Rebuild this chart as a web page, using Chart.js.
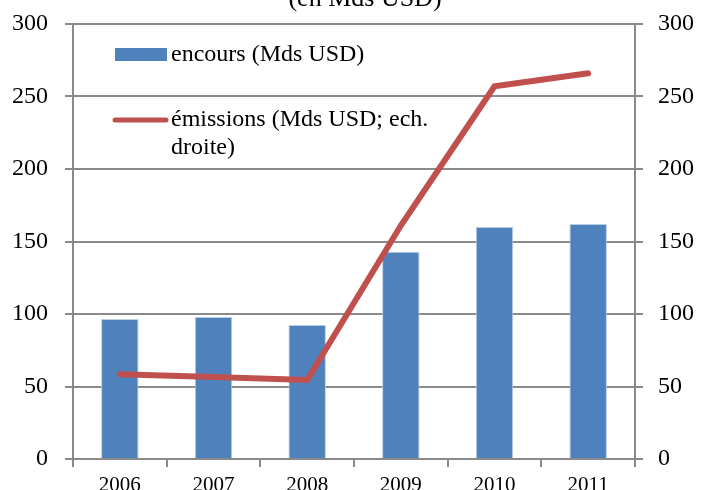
<!DOCTYPE html>
<html>
<head>
<meta charset="utf-8">
<script src="https://cdn.jsdelivr.net/npm/chart.js@4"></script>
<style>
    html, body { margin: 0; padding: 0; background: #fff; overflow: hidden; }
    canvas { display: block; }
</style>
</head>
<body>
<canvas id="chart" width="701" height="510"></canvas>
<script>
const years = ["2006", "2007", "2008", "2009", "2010", "2011"];
const encours = [96.5, 98, 92.5, 143, 160, 162];
const emissions = [58.5, 56.5, 54.5, 161, 257, 266];
const axisTicks = [0, 50, 100, 150, 200, 250, 300];

const titleText = "(en Mds USD)";
const legendBar = "encours (Mds USD)";
const legendLine = ["émissions (Mds USD; ech.", "droite)"];

const gridColor = "#8a8a8a";
const serif = "'Liberation Serif', 'Times New Roman', serif";

// title and legend are drawn by hand since they sit inside the plot
const overlayPlugin = {
    id: "overlay",
    afterDraw(chart) {
        const ctx = chart.ctx;
        ctx.save();
        ctx.fillStyle = "#000";
        ctx.font = "26px " + serif;
        ctx.textAlign = "center";
        ctx.textBaseline = "alphabetic";
        ctx.fillText(titleText, 365, 6);

        ctx.fillStyle = "#4f81bd";
        ctx.fillRect(115, 48, 52, 13);

        ctx.strokeStyle = "#c0504d";
        ctx.lineWidth = 5;
        ctx.lineCap = "round";
        ctx.beginPath();
        ctx.moveTo(115, 120);
        ctx.lineTo(166, 120);
        ctx.stroke();

        ctx.fillStyle = "#000";
        ctx.font = "24px " + serif;
        ctx.textAlign = "left";
        ctx.textBaseline = "middle";
        ctx.fillText(legendBar, 171, 55);
        ctx.fillText(legendLine[0], 171, 120);
        ctx.fillText(legendLine[1], 171, 148);
        ctx.restore();
    }
};

function drawChart() {
    new Chart(document.getElementById("chart"), {
        data: {
            labels: years,
            datasets: [{
                type: "line",
                label: "émissions",
                data: emissions,
                yAxisID: "y1",
                borderColor: "#c0504d",
                borderWidth: 6,
                borderCapStyle: "round",
                borderJoinStyle: "miter",
                pointRadius: 0,
                tension: 0,
                order: 0
            }, {
                type: "bar",
                label: "encours",
                data: encours,
                yAxisID: "y",
                backgroundColor: "#4f81bd",
                borderColor: "#b9cde5",
                borderWidth: 1,
                categoryPercentage: 1,
                barPercentage: 0.4,
                order: 1
            }]
        },
        options: {
            responsive: false,
            animation: false,
            // small lineHeight on y ticks keeps the axis padding from pushing the plot down
            layout: { padding: { top: 24, left: 0, right: 0, bottom: 0 } },
            plugins: {
                legend: { display: false },
                tooltip: { enabled: false }
            },
            scales: {
                x: {
                    grid: {
                        offset: true,
                        drawOnChartArea: false,
                        color: gridColor,
                        lineWidth: 2,
                        tickLength: 8
                    },
                    border: { color: gridColor, width: 2 },
                    ticks: {
                        color: "#000",
                        font: { family: serif, size: 21 },
                        padding: 6,
                        maxRotation: 0
                    },
                    afterFit: axis => { axis.height = 51; }
                },
                y: {
                    position: "left",
                    min: 0,
                    max: 300,
                    grid: { color: gridColor, lineWidth: 2, tickLength: 8 },
                    border: { color: gridColor, width: 2 },
                    ticks: {
                        stepSize: 50,
                        color: "#000",
                        font: { family: serif, size: 24, lineHeight: 0.5 },
                        padding: 17,
                        callback: v => axisTicks.includes(v) ? v : ""
                    },
                    afterFit: axis => { axis.width = 73; }
                },
                y1: {
                    position: "right",
                    min: 0,
                    max: 300,
                    grid: { drawOnChartArea: false, color: gridColor, lineWidth: 2, tickLength: 8 },
                    border: { color: gridColor, width: 2 },
                    ticks: {
                        stepSize: 50,
                        color: "#000",
                        font: { family: serif, size: 24, lineHeight: 0.5 },
                        padding: 15,
                        callback: v => axisTicks.includes(v) ? v : ""
                    },
                    afterFit: axis => { axis.width = 66; }
                }
            }
        },
        plugins: [overlayPlugin]
    });
}

document.addEventListener("DOMContentLoaded", drawChart);
</script>
</body>
</html>
